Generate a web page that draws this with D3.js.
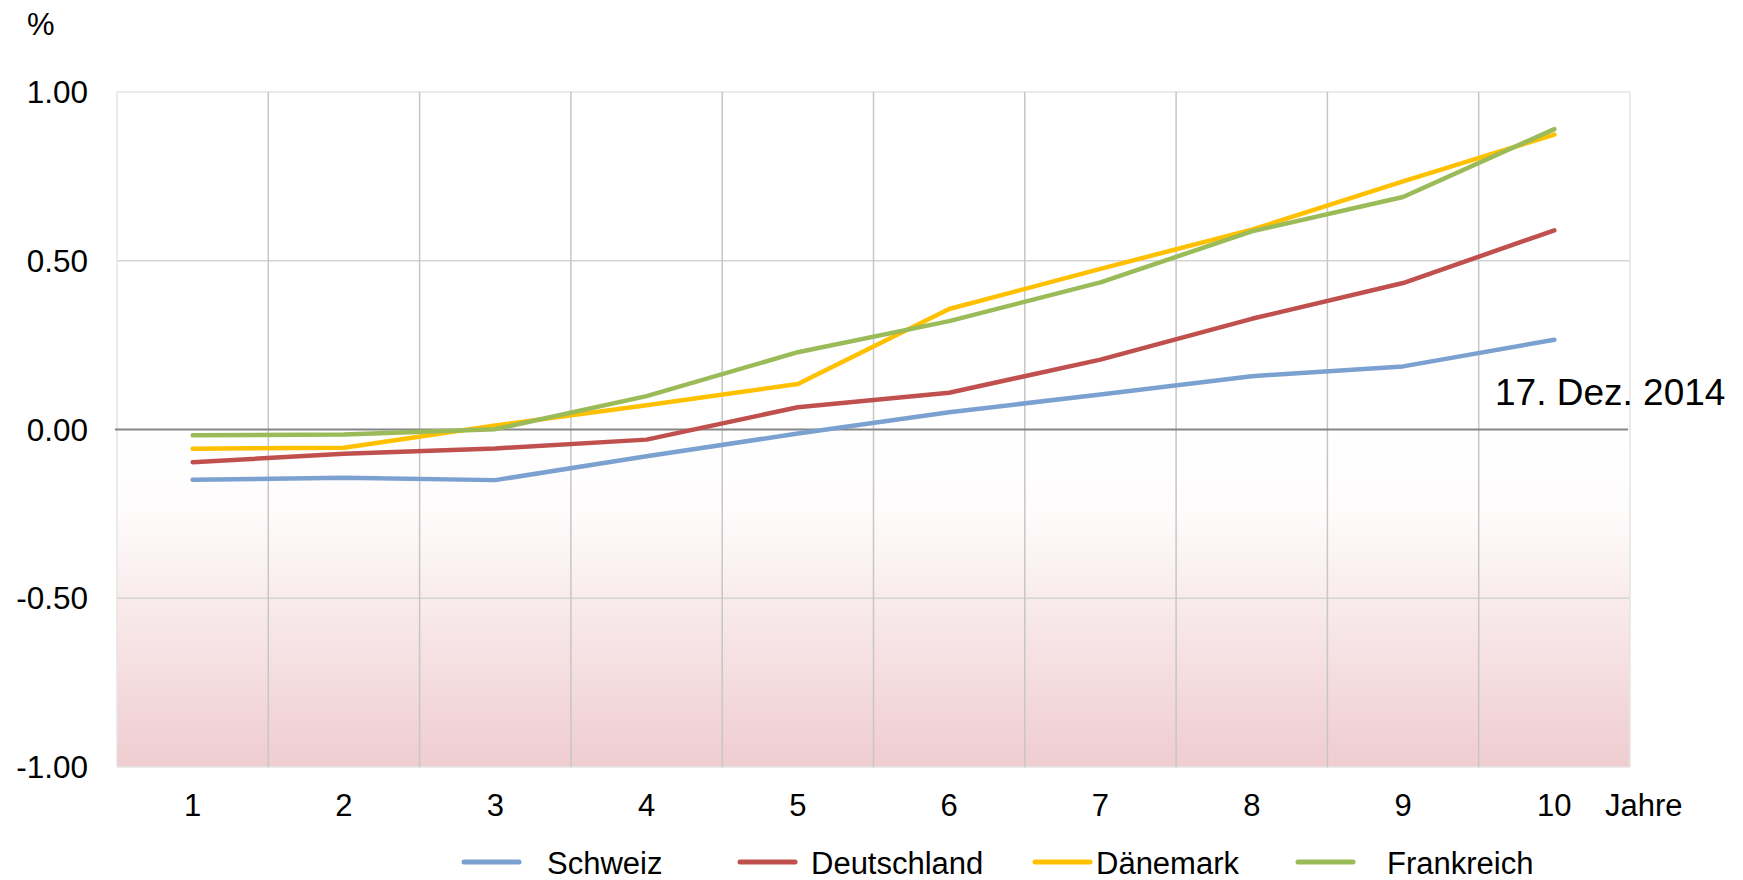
<!DOCTYPE html>
<html>
<head>
<meta charset="utf-8">
<script src="https://cdn.jsdelivr.net/npm/d3@7"></script>
<style>
  html, body { margin: 0; padding: 0; background: #ffffff; }
  svg { display: block; font-family: "Liberation Sans", Arial, sans-serif; }
</style>
</head>
<body>
<svg id="chart" width="1743" height="880"></svg>
<script>
// Laufzeiten in Jahren
const years = ["1", "2", "3", "4", "5", "6", "7", "8", "9", "10"];

// Renditen von Staatsanleihen in %
const schweiz     = [-0.149, -0.143, -0.150, -0.079, -0.012, 0.051, 0.104, 0.158, 0.187, 0.266];
const deutschland = [-0.097, -0.072, -0.056, -0.030, 0.066, 0.109, 0.207, 0.328, 0.434, 0.590];
const daenemark   = [-0.057, -0.054, 0.012, 0.072, 0.135, 0.357, 0.476, 0.592, 0.735, 0.874];
const frankreich  = [-0.017, -0.015, 0.001, 0.099, 0.229, 0.321, 0.436, 0.587, 0.689, 0.890];

const seriesNames  = ["Schweiz", "Deutschland", "Dänemark", "Frankreich"];
const seriesColors = ["#7BA1D0", "#C0504D", "#FFC000", "#9BBB59"];

const yTicks      = [-1, -0.5, 0, 0.5, 1];
const yTickLabels = ["-1.00", "-0.50", "0.00", "0.50", "1.00"];

const series = [schweiz, deutschland, daenemark, frankreich].map((values, i) => ({
  name: seriesNames[i],
  color: seriesColors[i],
  values: values.map((v, j) => ({ year: years[j], v }))
}));

const svg = d3.select("#chart");
const plot = { left: 117, right: 1630, top: 92, bottom: 767 };

const x = d3.scaleBand().domain(years).range([plot.left, plot.right]).paddingInner(0).paddingOuter(0);
const y = d3.scaleLinear().domain([-1, 1]).range([plot.bottom, plot.top]);
const cx = d => x(d) + x.bandwidth() / 2;

// Hintergrund: rot getönter Bereich für negative Renditen
const defs = svg.append("defs");
const grad = defs.append("linearGradient")
  .attr("id", "negGrad")
  .attr("gradientUnits", "userSpaceOnUse")
  .attr("x1", 0).attr("x2", 0)
  .attr("y1", y(0)).attr("y2", y(-1));
grad.append("stop").attr("offset", "0%").attr("stop-color", "#ffffff");
grad.append("stop").attr("offset", "25%").attr("stop-color", "#FEFBFB");
grad.append("stop").attr("offset", "100%").attr("stop-color", "#EFCCD0");

svg.append("rect")
  .attr("x", plot.left).attr("y", plot.top)
  .attr("width", plot.right - plot.left).attr("height", y(0) - plot.top)
  .attr("fill", "#ffffff");
svg.append("rect")
  .attr("x", plot.left).attr("y", y(0))
  .attr("width", plot.right - plot.left).attr("height", y(-1) - y(0))
  .attr("fill", "url(#negGrad)");

// Horizontale Gitterlinien
svg.append("g")
  .selectAll("line")
  .data(yTicks.filter(t => t !== 0))
  .join("line")
  .attr("x1", plot.left).attr("x2", plot.right)
  .attr("y1", d => y(d)).attr("y2", d => y(d))
  .attr("stroke", d => Math.abs(d) === 1 ? "#E4E4E4" : "#D4D4D4")
  .attr("stroke-width", 1.5);

// Vertikale Gitterlinien an den Kategoriegrenzen
const bounds = years.map(d => x(d)).concat([plot.right]);
svg.append("g")
  .selectAll("line")
  .data(bounds)
  .join("line")
  .attr("x1", d => d).attr("x2", d => d)
  .attr("y1", plot.top).attr("y2", plot.bottom)
  .attr("stroke", (d, i) => (i === 0 || i === bounds.length - 1) ? "#E4E4E4" : "#C6C6C6")
  .attr("stroke-width", 1.5);

// Nulllinie
svg.append("line")
  .attr("x1", plot.left - 2).attr("x2", plot.right - 2)
  .attr("y1", y(0)).attr("y2", y(0))
  .attr("stroke", "#858585")
  .attr("stroke-width", 2);

// Y-Achsenbeschriftung
svg.append("g")
  .selectAll("text")
  .data(yTicks)
  .join("text")
  .attr("x", 88)
  .attr("y", d => y(d))
  .attr("dy", "0.35em")
  .attr("text-anchor", "end")
  .attr("font-size", 31.5)
  .attr("fill", "#000")
  .text((d, i) => yTickLabels[i]);

svg.append("text")
  .attr("x", 27).attr("y", 35)
  .attr("font-size", 31)
  .attr("fill", "#000")
  .text("%");

// X-Achsenbeschriftung
svg.append("g")
  .selectAll("text")
  .data(years)
  .join("text")
  .attr("x", d => cx(d))
  .attr("y", 816)
  .attr("text-anchor", "middle")
  .attr("font-size", 31)
  .attr("fill", "#000")
  .text(d => d);

svg.append("text")
  .attr("x", 1605).attr("y", 816)
  .attr("font-size", 31)
  .attr("fill", "#000")
  .text("Jahre");

// Renditekurven
const line = d3.line()
  .x(d => cx(d.year))
  .y(d => y(d.v));

svg.append("g")
  .selectAll("path")
  .data(series)
  .join("path")
  .attr("d", d => line(d.values))
  .attr("fill", "none")
  .attr("stroke", d => d.color)
  .attr("stroke-width", 4.5)
  .attr("stroke-linecap", "round")
  .attr("stroke-linejoin", "round");

// Datumsangabe
svg.append("text")
  .attr("x", 1495).attr("y", 405)
  .attr("font-size", 37)
  .attr("fill", "#000")
  .text("17. Dez. 2014");

// Legende
const legendX = [464, 740, 1035, 1298];
const legendTextX = [547, 811, 1096, 1387];
const legendY = 862;
const legend = svg.append("g")
  .selectAll("g")
  .data(series)
  .join("g");
legend.append("line")
  .attr("x1", (d, i) => legendX[i])
  .attr("x2", (d, i) => legendX[i] + 55)
  .attr("y1", legendY).attr("y2", legendY)
  .attr("stroke", d => d.color)
  .attr("stroke-width", 5)
  .attr("stroke-linecap", "round");
legend.append("text")
  .attr("x", (d, i) => legendTextX[i])
  .attr("y", legendY + 12)
  .attr("font-size", 31)
  .attr("fill", "#000")
  .text(d => d.name);
</script>
</body>
</html>
